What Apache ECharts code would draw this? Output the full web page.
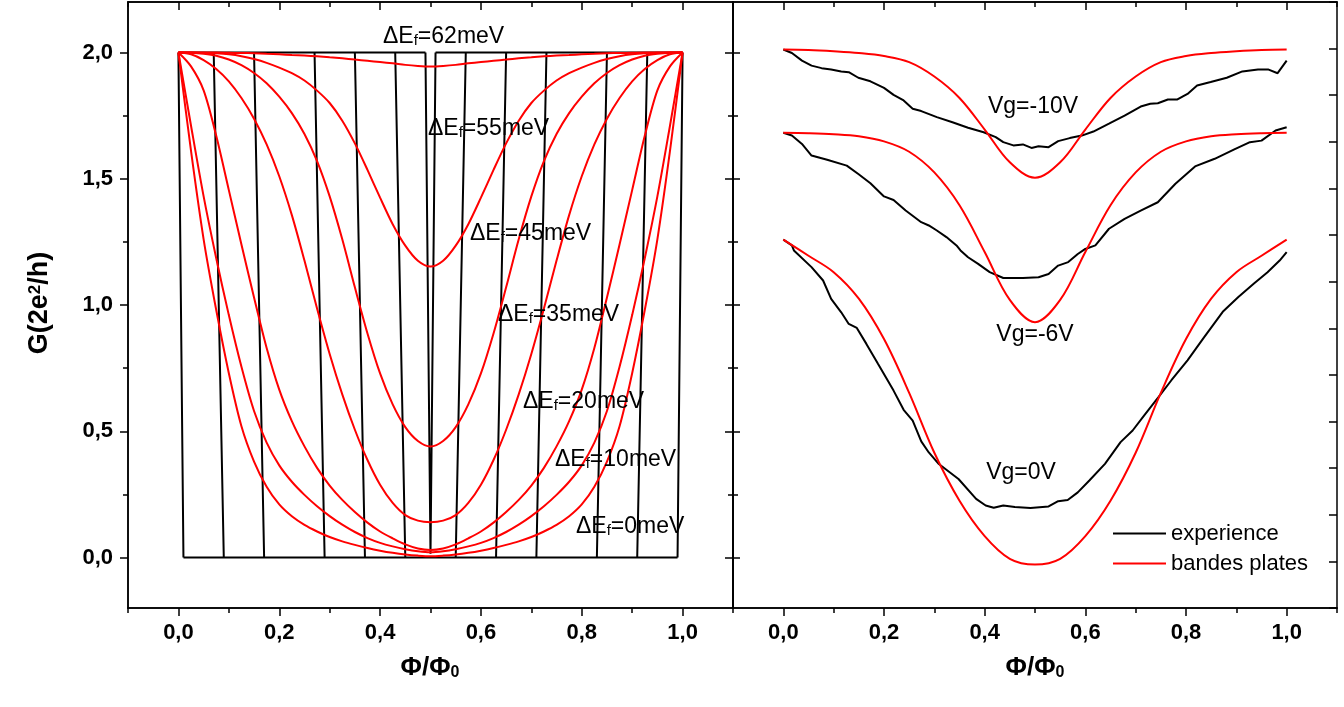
<!DOCTYPE html>
<html><head><meta charset="utf-8">
<script src="https://cdn.jsdelivr.net/npm/echarts@6/dist/echarts.min.js"></script>
<style>html,body{margin:0;padding:0;background:#fff}#c{width:1344px;height:707px}</style>
</head><body><div id="c"></div>
<script>
// ---------------- DATA ----------------
// Left panel: calculated G(Φ/Φ0) for several ΔEf (meV), read on 0..0.5 (the curves are symmetric about 0.5)
const phiCalc = [0,0.025,0.05,0.075,0.1,0.125,0.15,0.175,0.2,0.225,0.25,0.275,0.3,0.325,0.35,0.375,0.4,0.425,0.45,0.475,0.5,
                 0.525,0.55,0.575,0.6,0.625,0.65,0.675,0.7,0.725,0.75,0.775,0.8,0.825,0.85,0.875,0.9,0.925,0.95,0.975,1.0];
const G_0meV  = [2.0,1.61,1.26,0.98,0.73,0.52,0.38,0.28,0.21,0.163,0.129,0.103,0.081,0.064,0.05,0.0375,0.027,0.0185,0.012,0.0075,0.005,
                 0.0075,0.012,0.0185,0.027,0.0375,0.05,0.064,0.081,0.103,0.129,0.163,0.21,0.28,0.38,0.52,0.73,0.98,1.26,1.61,2.0];
const G_10meV = [2.0,1.71,1.43,1.185,0.96,0.755,0.58,0.455,0.365,0.30,0.248,0.203,0.164,0.130,0.101,0.077,0.058,0.044,0.033,0.025,0.021,
                 0.025,0.033,0.044,0.058,0.077,0.101,0.130,0.164,0.203,0.248,0.30,0.365,0.455,0.58,0.755,0.96,1.185,1.43,1.71,2.0];
const G_20meV = [2.0,1.945,1.85,1.67,1.455,1.24,1.03,0.83,0.665,0.54,0.44,0.355,0.285,0.228,0.18,0.138,0.103,0.076,0.052,0.036,0.03,
                 0.036,0.052,0.076,0.103,0.138,0.18,0.228,0.285,0.355,0.44,0.54,0.665,0.83,1.03,1.24,1.455,1.67,1.85,1.945,2.0];
const G_35meV = [2.0,1.993,1.97,1.935,1.886,1.82,1.738,1.636,1.51,1.356,1.176,0.986,0.806,0.646,0.506,0.386,0.288,0.216,0.168,0.146,0.14,
                 0.146,0.168,0.216,0.288,0.386,0.506,0.646,0.806,0.986,1.176,1.356,1.51,1.636,1.738,1.82,1.886,1.935,1.97,1.993,2.0];
const G_45meV = [2.0,1.999,1.995,1.9875,1.9725,1.95,1.919,1.878,1.825,1.76,1.6775,1.57,1.43,1.26,1.07,0.8875,0.729,0.6065,0.5165,0.4615,0.44,
                 0.4615,0.5165,0.6065,0.729,0.8875,1.07,1.26,1.43,1.57,1.6775,1.76,1.825,1.878,1.919,1.95,1.9725,1.9875,1.995,1.999,2.0];
const G_55meV = [2.0,2.0,1.999,1.997,1.993,1.9855,1.974,1.959,1.94,1.918,1.889,1.849,1.80,1.73,1.64,1.535,1.425,1.32,1.235,1.175,1.152,
                 1.175,1.235,1.32,1.425,1.535,1.64,1.73,1.80,1.849,1.889,1.918,1.94,1.959,1.974,1.9855,1.993,1.997,1.999,2.0,2.0];
const G_62meV = [2.0,2.0,2.0,2.0,1.999,1.998,1.997,1.995,1.993,1.99,1.988,1.985,1.981,1.977,1.972,1.967,1.962,1.957,1.951,1.947,1.945,
                 1.947,1.951,1.957,1.962,1.967,1.972,1.977,1.981,1.985,1.988,1.99,1.993,1.995,1.997,1.998,1.999,2.0,2.0,2.0,2.0];

// Left panel: black step comb (Φ/Φ0 where each vertical leaves G=2 and where it reaches the bottom)
const combTopPhi    = [0,0.07,0.15,0.27,0.35,0.43,0.49,0.51,0.57,0.65,0.73,0.85,0.93,1.0];
const combBottomPhi = [0.01,0.09,0.17,0.29,0.37,0.45,0.50,0.50,0.55,0.63,0.71,0.83,0.91,0.99];
const combBottomG   = [0,0,0,0,0,0,0.015,0.015,0,0,0,0,0,0];
const combTopRuns   = [[0,0.49],[0.51,1.0]];   // G = 2 plateaus
const combBottomRun = [0.01,0.99];             // G = 0 floor

// Right panel: "bandes plates" model
const phiBand = [0,0.05,0.1,0.15,0.2,0.25,0.3,0.35,0.4,0.45,0.5,0.55,0.6,0.65,0.7,0.75,0.8,0.85,0.9,0.95,1.0];
const band_m10V = [2.012,2.01,2.005,1.998,1.986,1.962,1.905,1.82,1.695,1.565,1.504,1.565,1.695,1.82,1.905,1.962,1.986,1.998,2.005,2.01,2.012];
const band_m6V  = [1.682,1.68,1.676,1.668,1.648,1.607,1.525,1.395,1.21,1.02,0.932,1.02,1.21,1.395,1.525,1.607,1.648,1.668,1.676,1.68,1.682];
const band_0V   = [1.259,1.195,1.13,1.025,0.865,0.652,0.415,0.225,0.085,-0.005,-0.028,-0.005,0.085,0.225,0.415,0.652,0.865,1.025,1.13,1.195,1.259];

// Right panel: experiment
const expPhi_m10V = [0,0.017,0.037,0.056,0.076,0.095,0.115,0.130,0.149,0.173,0.200,0.219,0.239,0.257,0.274,0.305,0.336,0.367,0.398,0.422,0.437,0.457,0.476,0.493,0.507,0.527,0.546,0.569,0.593,0.616,0.647,0.678,0.710,0.729,0.744,0.764,0.783,0.803,0.822,0.849,0.881,0.912,0.943,0.963,0.982,1.0];
const expG_m10V   = [2.012,1.998,1.968,1.948,1.938,1.933,1.925,1.922,1.900,1.886,1.860,1.832,1.810,1.777,1.768,1.744,1.724,1.702,1.684,1.665,1.645,1.632,1.636,1.622,1.629,1.625,1.649,1.661,1.671,1.687,1.718,1.750,1.786,1.797,1.799,1.814,1.814,1.836,1.869,1.883,1.900,1.925,1.933,1.933,1.918,1.968];
const expPhi_m6V  = [0,0.017,0.037,0.056,0.087,0.126,0.149,0.173,0.200,0.219,0.243,0.274,0.289,0.305,0.324,0.344,0.352,0.367,0.387,0.410,0.437,0.476,0.507,0.527,0.546,0.566,0.585,0.600,0.620,0.647,0.678,0.710,0.744,0.779,0.818,0.857,0.896,0.927,0.950,0.978,1.0];
const expG_m6V    = [1.682,1.671,1.638,1.592,1.575,1.552,1.519,1.482,1.430,1.416,1.374,1.328,1.315,1.295,1.269,1.236,1.216,1.189,1.163,1.130,1.107,1.107,1.110,1.123,1.156,1.170,1.202,1.222,1.236,1.302,1.341,1.374,1.407,1.480,1.549,1.579,1.616,1.645,1.651,1.691,1.704];
const expPhi_0V   = [0,0.017,0.021,0.056,0.079,0.095,0.115,0.130,0.146,0.165,0.188,0.219,0.239,0.257,0.274,0.289,0.309,0.348,0.383,0.402,0.418,0.437,0.460,0.491,0.527,0.546,0.565,0.585,0.608,0.639,0.670,0.694,0.717,0.748,0.771,0.803,0.834,0.873,0.904,0.935,0.962,0.986,1.0];
const expG_0V     = [1.259,1.236,1.216,1.150,1.097,1.024,0.971,0.925,0.909,0.846,0.767,0.661,0.585,0.542,0.460,0.416,0.370,0.311,0.232,0.206,0.197,0.206,0.200,0.196,0.202,0.223,0.228,0.258,0.305,0.371,0.457,0.503,0.563,0.642,0.702,0.781,0.867,0.973,1.032,1.085,1.130,1.176,1.209];

// Axis ticks and labels
const xMajorTicks = [0,0.2,0.4,0.6,0.8,1.0];
const xMinorTicks = [-0.1,0.1,0.3,0.5,0.7,0.9,1.1];
const yMajorTicks = [0,0.5,1.0,1.5,2.0];
const yMinorTicks = [0.25,0.75,1.25,1.75];
const calcLabels = ['ΔEf=0meV','ΔEf=10meV','ΔEf=20meV','ΔEf=35meV','ΔEf=45meV','ΔEf=55meV','ΔEf=62meV'];
const vgLabels = ['Vg=-10V','Vg=-6V','Vg=0V'];
const legendNames = ['experience','bandes plates'];

// ---------------- CHART ----------------
const FONT = "'Liberation Sans', Arial, Helvetica, sans-serif";
const chart = echarts.init(document.getElementById('c'), null, {renderer:'canvas'});
const fmt = v => (Math.round(v*10)/10).toFixed(1).replace('.', ',');
const LINE = {color:'#000', width:1.5};

function ax(grid, pos, min, max, ticks, len, inside, label, extra) {
  const o = {
    type:'value', gridIndex:grid, position:pos, min:min, max:max, offset:0,
    axisLine:{show:true, onZero:false, lineStyle:LINE},
    axisTick:{show:true, inside:inside, length:len, lineStyle:LINE},
    axisLabel:{show:false},
    splitLine:{show:false}
  };
  if (ticks) o.axisTick.customValues = ticks;
  if (label) {
    o.axisLabel = {show:true, customValues:ticks, formatter:fmt, color:'#000',
      fontFamily:FONT, fontWeight:'bold', fontSize:22, margin:label};
  }
  return Object.assign(o, extra || {});
}

const xAxes = [], yAxes = [];
[0,1].forEach(g => {
  xAxes.push(ax(g,'bottom',-0.1,1.1,xMajorTicks,8,false,14));
  xAxes.push(ax(g,'bottom',-0.1,1.1,xMinorTicks,5,false,0));
  xAxes.push(ax(g,'top',-0.1,1.1,xMajorTicks,8,true,0));
  xAxes.push(ax(g,'top',-0.1,1.1,xMinorTicks,5,true,0));
});
yAxes.push(ax(0,'left',-0.2,2.2,yMajorTicks,8,false,15));
yAxes.push(ax(0,'left',-0.2,2.2,yMinorTicks,5,false,0));
yAxes.push(ax(0,'right',-0.2,2.2,yMajorTicks,8,true,0));
yAxes.push(ax(0,'right',-0.2,2.2,yMinorTicks,5,true,0));
yAxes.push(ax(1,'left',-0.2,2.2,yMajorTicks,7,true,0));
yAxes.push(ax(1,'left',-0.2,2.2,yMinorTicks,5,true,0));
yAxes.push(ax(1,'right',0,13,null,8,true,0,{interval:1}));

const combData = [];
combTopRuns.forEach(r => { combData.push([r[0],2],[r[1],2],[null,null]); });
combData.push([combBottomRun[0],0],[combBottomRun[1],0],[null,null]);
combTopPhi.forEach((x,i) => { combData.push([x,2],[combBottomPhi[i],combBottomG[i]],[null,null]); });

const series = [];
series.push({name:'comb', type:'line', xAxisIndex:0, yAxisIndex:0, data:combData, symbol:'none',
  connectNulls:false, lineStyle:{color:'#000', width:2}, color:'#000', z:2, silent:true});
[G_0meV,G_10meV,G_20meV,G_35meV,G_45meV,G_55meV,G_62meV].forEach((g,k) => {
  series.push({name:calcLabels[k], type:'line', xAxisIndex:0, yAxisIndex:0,
    data:phiCalc.map((x,i)=>[x,g[i]]), smooth:0.3, symbol:'none',
    lineStyle:{color:'#ff0000', width:2}, color:'#ff0000', z:3, silent:true});
});
[[expPhi_m10V,expG_m10V],[expPhi_m6V,expG_m6V],[expPhi_0V,expG_0V]].forEach(p => {
  series.push({name:legendNames[0], type:'line', xAxisIndex:4, yAxisIndex:4,
    data:p[0].map((x,i)=>[x,p[1][i]]), symbol:'none',
    lineStyle:{color:'#000', width:2}, color:'#000', itemStyle:{color:'#000'}, z:2, silent:true});
});
[band_m10V,band_m6V,band_0V].forEach(g => {
  series.push({name:legendNames[1], type:'line', xAxisIndex:4, yAxisIndex:4,
    data:phiBand.map((x,i)=>[x,g[i]]), smooth:0.35, symbol:'none',
    lineStyle:{color:'#ff0000', width:2}, color:'#ff0000', itemStyle:{color:'#ff0000'}, z:3, silent:true});
});

const annRich = {
  a:{fontSize:23, fontFamily:FONT, fill:'#000', color:'#000', lineHeight:23, padding:[0,0,8,0], verticalAlign:'top'},
  s:{fontSize:15, fontFamily:FONT, fill:'#000', color:'#000', lineHeight:15, verticalAlign:'bottom'}
};
function annText(label, x, y) {
  const m = label.match(/^ΔEf(.*)$/);
  return {type:'text', x:x, y:y+4, silent:true, z:10,
    style:{text:'{a|ΔE}{s|f}{a|'+m[1]+'}', rich:annRich, align:'left', verticalAlign:'middle',
      textAlign:'left', textVerticalAlign:'middle'}};
}
function plainText(t, x, y, size) {
  return {type:'text', x:x, y:y, silent:true, z:10,
    style:{text:t, font:size+'px '+FONT, fill:'#000', align:'center', verticalAlign:'middle',
      textAlign:'center', textVerticalAlign:'middle'}};
}
const annPos = [[576,523],[555,456],[523,398],[498,311],[470,230],[428,125],[383,33]];
const vgPos = [[1033,107],[1035,335],[1021,473]];

const graphics = [];
calcLabels.forEach((l,k) => graphics.push(annText(l, annPos[k][0], annPos[k][1])));
vgLabels.forEach((l,k) => graphics.push(plainText(l, vgPos[k][0], vgPos[k][1], 23)));
graphics.push({type:'text', x:40, y:303, rotation:Math.PI/2, silent:true, z:10,
  style:{text:'{b|G(2e}{p|2}{b|/h)}', align:'center', verticalAlign:'middle', textAlign:'center', textVerticalAlign:'middle',
    rich:{
      b:{fontSize:27, fontWeight:'bold', fontFamily:FONT, fill:'#000', color:'#000', lineHeight:27, padding:[9,0,0,0], verticalAlign:'bottom'},
      p:{fontSize:17, fontWeight:'bold', fontFamily:FONT, fill:'#000', color:'#000', lineHeight:17, verticalAlign:'top'}
    }}});
[430,1035].forEach(cx => graphics.push({type:'text', x:cx, y:668, silent:true, z:10,
  style:{text:'{b|Φ/Φ}{s|0}', align:'center', verticalAlign:'middle', textAlign:'center', textVerticalAlign:'middle',
    rich:{
      b:{fontSize:26, fontWeight:'bold', fontFamily:FONT, fill:'#000', color:'#000', lineHeight:26, padding:[0,0,9,0], verticalAlign:'top'},
      s:{fontSize:16, fontWeight:'bold', fontFamily:FONT, fill:'#000', color:'#000', lineHeight:16, verticalAlign:'bottom'}
    }}}));

chart.setOption({
  animation:false,
  backgroundColor:'#fff',
  grid:[
    {left:128, top:2, width:605, height:606, containLabel:false, outerBoundsMode:'none'},
    {left:733, top:2, width:604, height:606, containLabel:false, outerBoundsMode:'none'}
  ],
  xAxis:xAxes,
  yAxis:yAxes,
  legend:{data:legendNames, left:1108, top:517, orient:'vertical', icon:'rect', itemWidth:53, itemHeight:2,
    itemGap:7, selectedMode:false,
    textStyle:{fontSize:22, fontFamily:FONT, color:'#000', lineHeight:23}},
  series:series,
  graphic:graphics
});
</script>
</body></html>
